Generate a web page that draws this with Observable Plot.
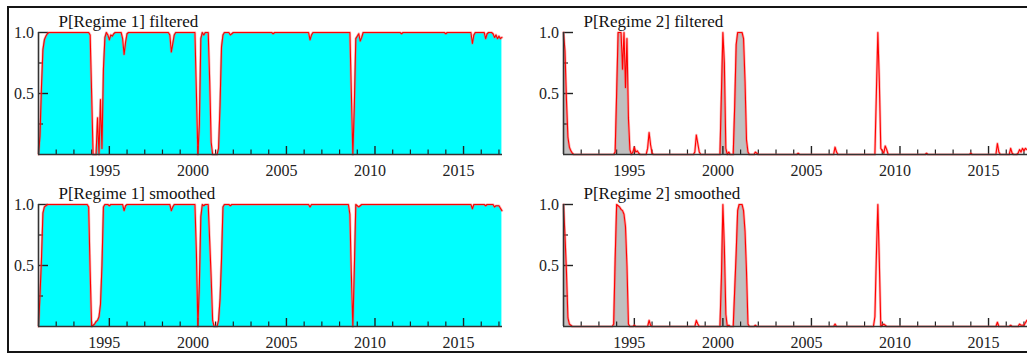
<!DOCTYPE html>
<html>
<head>
<meta charset="utf-8">
<script src="https://cdn.jsdelivr.net/npm/d3@7"></script>
<script src="https://cdn.jsdelivr.net/npm/@observablehq/plot@0.6"></script>
<style>
  html, body { margin: 0; padding: 0; background: #fff; }
  #wrap { position: relative; width: 1027px; height: 356px; overflow: hidden; background: #fff; }
  #frame { position: absolute; left: 7px; top: 6px; width: 1040px; height: 347px; border: 2px solid #151515; box-sizing: border-box; }
  .panel { position: absolute; }
  #wrap svg, #wrap svg text { font-family: "Liberation Serif", "Times New Roman", serif !important; }
</style>
</head>
<body>
<div id="wrap"><div id="frame"></div></div>
<script>
// ---- Data: monthly probabilities of Regime 2, 1991:01 .. 2017:03 ----
const startYear = 1991;
const filteredRegime2 = [
  1, .85, .45, .14, .06, .03, .01, 0, 0, 0, 0, 0,          // 1991
  0, 0, 0, 0, 0, 0, 0, 0, 0, 0, 0, 0,                      // 1992
  0, 0, 0, 0, 0, 0, 0, 0, 0, 0, 0, .02,                    // 1993
  .5, 1, 1, 1, .7, 1, .55, .95, .3, .04, 0, .02,           // 1994
  .06, .02, .03, .01, 0, 0, 0, 0, 0, .05, .18, .08,        // 1995
  .01, 0, 0, 0, 0, 0, 0, 0, 0, 0, 0, 0,                    // 1996
  0, 0, 0, 0, 0, 0, 0, 0, 0, 0, 0, 0,                      // 1997
  0, 0, 0, 0, 0, .02, .16, .09, .02, 0, 0, 0,              // 1998
  0, 0, 0, 0, 0, 0, 0, 0, 0, 0, 0, .5,                     // 1999
  1, .75, .05, 0, .02, 0, 0, 0, .4, .9, 1, 1,              // 2000
  1, 1, .95, .6, .12, .02, 0, 0, 0, 0, .02, .01,           // 2001
  0, 0, 0, 0, 0, 0, 0, 0, 0, 0, 0, 0,                      // 2002
  0, 0, 0, 0, 0, 0, 0, 0, 0, 0, 0, 0,                      // 2003
  0, 0, 0, .01, 0, 0, 0, 0, 0, 0, 0, 0,                    // 2004
  0, 0, 0, 0, 0, 0, 0, 0, 0, 0, 0, 0,                      // 2005
  0, 0, 0, 0, .06, .02, 0, 0, 0, 0, 0, 0,                  // 2006
  0, 0, 0, 0, 0, 0, 0, 0, 0, 0, 0, 0,                      // 2007
  0, 0, 0, 0, 0, 0, 0, 0, .5, 1, .6, .05,                  // 2008
  .03, .01, .07, .04, 0, 0, 0, 0, 0, 0, 0, 0,              // 2009
  0, 0, 0, 0, 0, 0, 0, 0, 0, 0, 0, 0,                      // 2010
  0, 0, 0, 0, 0, 0, .01, 0, 0, 0, 0, 0,                    // 2011
  0, 0, 0, 0, 0, 0, 0, 0, 0, 0, 0, 0,                      // 2012
  0, 0, 0, 0, 0, 0, 0, 0, 0, 0, 0, 0,                      // 2013
  .01, 0, 0, 0, 0, 0, 0, 0, 0, 0, 0, 0,                    // 2014
  0, 0, 0, 0, 0, 0, .09, .02, 0, 0, 0, 0,                  // 2015
  0, 0, 0, .05, .01, 0, 0, 0, .01, .04, .02, .05,          // 2016
  .03, .05, .04                                            // 2017
];
const smoothedRegime2 = [
  1, .75, .45, .07, .02, .01, 0, 0, 0, 0, 0, 0,            // 1991
  0, 0, 0, 0, 0, 0, 0, 0, 0, 0, 0, 0,                      // 1992
  0, 0, 0, 0, 0, 0, 0, 0, 0, 0, .02, .55,                  // 1993
  1, .99, .98, .96, .95, .92, .82, .5, .02, 0, 0, 0,       // 1994
  .01, 0, 0, 0, 0, 0, 0, 0, 0, 0, .05, .01,                // 1995
  0, 0, 0, 0, 0, 0, 0, 0, 0, 0, 0, 0,                      // 1996
  0, 0, 0, 0, 0, 0, 0, 0, 0, 0, 0, 0,                      // 1997
  0, 0, 0, 0, 0, 0, .05, .02, 0, 0, 0, 0,                  // 1998
  0, 0, 0, 0, 0, 0, 0, 0, 0, 0, 0, .4,                     // 1999
  1, .65, .1, 0, .01, 0, 0, 0, .3, .6, .95, 1,             // 2000
  1, 1, .95, .78, .45, .02, 0, 0, 0, 0, .01, 0,            // 2001
  0, 0, 0, 0, 0, 0, 0, 0, 0, 0, 0, 0,                      // 2002
  0, 0, 0, 0, 0, 0, 0, 0, 0, 0, 0, 0,                      // 2003
  0, 0, 0, 0, 0, 0, 0, 0, 0, 0, 0, 0,                      // 2004
  0, 0, 0, 0, 0, 0, 0, 0, 0, 0, 0, 0,                      // 2005
  0, 0, 0, 0, .02, 0, 0, 0, 0, 0, 0, 0,                    // 2006
  0, 0, 0, 0, 0, 0, 0, 0, 0, 0, 0, 0,                      // 2007
  0, 0, 0, 0, 0, 0, 0, .08, .58, 1, .53, 0,                // 2008
  .01, .02, .01, 0, 0, 0, 0, 0, 0, 0, 0, 0,                // 2009
  0, 0, 0, 0, 0, 0, 0, 0, 0, 0, 0, 0,                      // 2010
  0, 0, 0, 0, 0, 0, 0, 0, 0, 0, 0, 0,                      // 2011
  0, 0, 0, 0, 0, 0, 0, 0, 0, 0, 0, 0,                      // 2012
  0, 0, 0, 0, 0, 0, 0, 0, 0, 0, 0, 0,                      // 2013
  0, 0, 0, 0, 0, 0, 0, 0, 0, 0, 0, 0,                      // 2014
  0, 0, 0, 0, 0, 0, .035, 0, 0, 0, 0, 0,                   // 2015
  0, 0, 0, .01, 0, 0, 0, 0, 0, .02, .01, .01,              // 2016
  .01, .03, .05                                            // 2017
];
// month-index ranges of the Regime 2 episodes shaded grey
const regime2Episodes = [[0, 6], [34, 46], [106, 111], [115, 126]];

const titles = ["P[Regime 1] filtered", "P[Regime 2] filtered", "P[Regime 1] smoothed", "P[Regime 2] smoothed"];
const xDomain = [1991, 2017.2];
const majorYears = [1995, 2000, 2005, 2010, 2015];
const minorYears = [1992, 1993, 1994, 1996, 1997, 1998, 1999, 2001, 2002, 2003, 2004, 2006, 2007, 2008, 2009, 2011, 2012, 2013, 2014, 2016, 2017];
const yLabelTicks = [0.5, 1.0];
const yMinorTicks = [0.25, 0.75];

// ---- Layout ----
const FRAME_W = 464, FRAME_H = 122;
const FONT = "Liberation Serif";
const panels = [
  {title: titles[0], values: filteredRegime2, regime: 1, left: 0,   top: 0},
  {title: titles[1], values: filteredRegime2, regime: 2, left: 525, top: 0},
  {title: titles[2], values: smoothedRegime2, regime: 1, left: 0,   top: 172},
  {title: titles[3], values: smoothedRegime2, regime: 2, left: 525, top: 172}
];

const inEpisode = i => regime2Episodes.some(([a, b]) => i >= a && i <= b);

function makePanel({title, values, regime}) {
  const rows = values.map((v, i) => ({t: startYear + i / 12, i, p: regime === 1 ? 1 - v : v}));
  const marginLeft = 38, marginTop = 32, marginBottom = 26;
  const width = marginLeft + FRAME_W + (regime === 1 ? 18 : 0);
  const fill = regime === 1
    ? Plot.areaY(rows, {x: "t", y1: 0, y2: "p", fill: "#00ffff"})
    : Plot.areaY(rows, {x: "t", y1: 0, y2: d => inEpisode(d.i) ? d.p : NaN, fill: "#c0c0c0"});
  return Plot.plot({
    width, height: marginTop + FRAME_H + marginBottom,
    marginLeft, marginRight: width - marginLeft - FRAME_W, marginTop, marginBottom,
    x: {domain: xDomain, axis: null},
    y: {domain: [0, 1], axis: null},
    style: {fontFamily: FONT, background: "transparent", overflow: "visible", maxWidth: "none"},
    marks: [
      fill,
      // x ticks (inward)
      Plot.ruleX(minorYears, {x: d => d, insetTop: FRAME_H - 4.5, stroke: "#222", strokeWidth: 1.2}),
      Plot.ruleX(majorYears, {x: d => d, insetTop: FRAME_H - 8, stroke: "#222", strokeWidth: 1.4}),
      // y ticks (inward)
      Plot.ruleY(yLabelTicks, {y: d => d, insetRight: FRAME_W - 10, stroke: "#222", strokeWidth: 1.4}),
      Plot.ruleY(yMinorTicks, {y: d => d, insetRight: FRAME_W - 5, stroke: "#222", strokeWidth: 1.2}),
      // probability line (soft halo + core)
      Plot.lineY(rows, {x: "t", y: "p", stroke: "#ff5a5a", strokeWidth: 2.6, strokeOpacity: 0.45}),
      Plot.lineY(rows, {x: "t", y: "p", stroke: "#ff0000", strokeWidth: 1.1}),
      // axis lines
      Plot.ruleX([xDomain[0]], {x: d => d, stroke: "#333", strokeWidth: 1.6}),
      Plot.ruleY([0], {y: d => d, stroke: "#333", strokeWidth: 1.6}),
      // tick labels
      Plot.text(majorYears, {x: d => d, text: d => String(d), frameAnchor: "bottom", lineAnchor: "middle", dy: 16, dx: -5, fontSize: 16, fontFamily: FONT, fill: "#222"}),
      Plot.text(yLabelTicks, {y: d => d, text: d => d.toFixed(1), frameAnchor: "left", textAnchor: "end", dx: -4.5, fontSize: 16, fontFamily: FONT, fill: "#222"}),
      // title
      Plot.text([title], {text: d => d, frameAnchor: "top-left", textAnchor: "start", lineAnchor: "middle", dx: 20, dy: -11, fontSize: 17, fontFamily: FONT, fill: "#111"})
    ]
  });
}

const wrap = document.getElementById("wrap");
for (const p of panels) {
  const div = document.createElement("div");
  div.className = "panel";
  div.style.left = p.left + "px";
  div.style.top = p.top + "px";
  div.appendChild(makePanel(p));
  wrap.appendChild(div);
}
</script>
</body>
</html>
